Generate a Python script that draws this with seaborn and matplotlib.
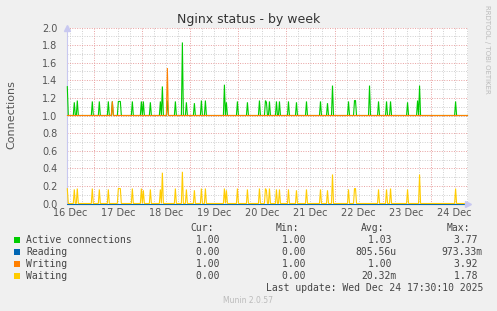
import numpy as np
import pandas as pd
import matplotlib
matplotlib.use("Agg")
import matplotlib.pyplot as plt
import seaborn as sns
from matplotlib.patches import Rectangle

# ---- data (time in hours since 16 Dec 00:00, 30-minute samples) ----
t_start, t_end, step = 10.5, 210.5, 0.5

active_base = 1.0
active_t = [10.5, 14.0, 15.5, 23.0, 26.5, 31.0, 33.0, 36.0, 36.5, 37.0, 43.0, 47.5, 48.5,
            52.0, 57.0, 58.0, 60.5, 64.5, 68.0, 70.0, 74.0, 77.5, 79.5, 89.0, 90.0, 95.5,
            100.5, 106.5, 109.5, 110.0, 111.5, 115.0, 116.5, 121.0, 125.0, 130.0, 137.0,
            140.5, 143.0, 151.0, 154.0, 154.5, 161.5, 166.0, 170.0, 172.0, 180.5, 185.5,
            186.5, 204.5]
active_v = [1.33, 1.15, 1.17, 1.16, 1.16, 1.16, 1.16, 1.16, 1.16, 1.16, 1.16, 1.16, 1.16,
            1.15, 1.16, 1.33, 1.17, 1.16, 1.83, 1.15, 1.14, 1.17, 1.17, 1.35, 1.15, 1.16,
            1.15, 1.17, 1.17, 1.15, 1.16, 1.16, 1.16, 1.16, 1.15, 1.16, 1.16,
            1.14, 1.34, 1.16, 1.17, 1.17, 1.34, 1.16, 1.16, 1.16, 1.15, 1.17,
            1.34, 1.16]

reading_base = 0.0
reading_t = []
reading_v = []

writing_base = 1.0
writing_t = [33.0, 60.5]
writing_v = [1.16, 1.54]

waiting_base = 0.0
waiting_t = [10.5, 14.0, 15.5, 23.0, 26.5, 31.0, 36.0, 36.5, 37.0, 43.0, 47.5, 48.5, 52.0,
             57.0, 58.0, 64.5, 68.0, 70.0, 74.0, 77.5, 79.5, 89.0, 90.0, 95.5, 100.5, 106.5,
             109.5, 110.0, 111.5, 115.0, 116.5, 121.0, 125.0, 130.0, 137.0, 140.5, 143.0,
             151.0, 154.0, 154.5, 166.0, 170.0, 172.0, 180.5, 186.5, 204.5]
waiting_v = [0.17, 0.16, 0.17, 0.17, 0.16, 0.16, 0.17, 0.17, 0.17, 0.17, 0.17, 0.15, 0.16,
             0.16, 0.35, 0.17, 0.36, 0.16, 0.15, 0.17, 0.17, 0.17, 0.15, 0.17, 0.16, 0.17,
             0.17, 0.15, 0.17, 0.16, 0.16, 0.16, 0.15, 0.16, 0.16, 0.15, 0.33,
             0.16, 0.17, 0.17, 0.16, 0.16, 0.17, 0.16, 0.33, 0.17]

series_names = ["Active connections", "Reading", "Writing", "Waiting"]
colors = ["#00CC00", "#0066B3", "#FF8000", "#FFCC00"]
cur_vals = ["1.00 ", "0.00 ", "1.00 ", "0.00 "]
min_vals = ["1.00 ", "0.00 ", "1.00 ", "0.00 "]
avg_vals = ["1.03 ", "805.56u", "1.00 ", "20.32m"]
max_vals = ["3.77 ", "973.33m", "3.92 ", "1.78 "]

day_labels = ["16 Dec", "17 Dec", "18 Dec", "19 Dec", "20 Dec", "21 Dec", "22 Dec", "23 Dec", "24 Dec"]

# ---- build table ----
times = np.arange(t_start, t_end + step / 2, step)


def build(base, ts, vs):
    arr = np.full(times.shape, base, dtype=float)
    for t, v in zip(ts, vs):
        arr[int(round((t - t_start) / step))] = v
    return arr


series_data = {}
for name, (b, ts, vs) in zip(series_names, [(active_base, active_t, active_v),
                                            (reading_base, reading_t, reading_v),
                                            (writing_base, writing_t, writing_v),
                                            (waiting_base, waiting_t, waiting_v)]):
    series_data[name] = pd.DataFrame({"t": times, "value": build(b, ts, vs)})

# ---- figure ----
W, H = 497, 311
sns.set_theme(style="white")
plt.rcParams["font.family"] = ["DejaVu Sans"]
fig = plt.figure(figsize=(W / 100, H / 100), dpi=100, facecolor="#F0F0F0")


def fx(x):
    return x / W


def fy(y):
    return 1 - y / H


L, R = 67, 468
bottom_px, height_px = 107.5, 176  # pixels from figure bottom
ax = fig.add_axes([fx(L), bottom_px / H, (R - L) / W, height_px / H])
ax.set_facecolor("white")

x0, x1 = 10.35, 210.7
ax.set_xlim(x0, x1)
ax.set_ylim(0, 2.0)

# grid
dots = (0, (1, 1.5))
for h in np.arange(12, 211, 6):
    if h % 24 != 0:
        ax.axvline(h, color="#cfcfcf", lw=0.7, ls=dots, zorder=0)
for h in np.arange(24, 211, 24):
    ax.axvline(h, color="#e8a0a0", lw=0.7, ls=dots, zorder=0.5)
for yv in np.arange(0.1, 2.0, 0.2):
    ax.axhline(yv, color="#cfcfcf", lw=0.7, ls=dots, zorder=0)
for yv in np.arange(0.2, 2.01, 0.2):
    ax.axhline(yv, color="#e8a0a0", lw=0.7, ls=dots, zorder=0.5)

# series drawn one by one, in Munin order (later ones on top)
for i, (name, col) in enumerate(zip(series_names, colors)):
    n_before = len(ax.get_lines())
    sns.lineplot(data=series_data[name], x="t", y="value", color=col, estimator=None,
                 sort=True, legend=False, lw=0.8, ax=ax)
    for ln in ax.get_lines()[n_before:]:
        ln.set_clip_on(False)
        ln.set_zorder(3 + i)
        ln.set_solid_joinstyle("miter")

ax.set_xticks(np.arange(12, 205, 24), day_labels)
ax.set_yticks(np.round(np.arange(0, 2.01, 0.2), 1), [f"{v:.1f}" for v in np.arange(0, 2.01, 0.2)])
ax.tick_params(axis="both", length=0, labelsize=7, labelcolor="#555555")
ax.tick_params(axis="y", pad=7)
ax.tick_params(axis="x", pad=3)
ax.set_xlabel("")
ax.set_ylabel("")
for s in ["top", "right"]:
    ax.spines[s].set_visible(False)
for s in ["left", "bottom"]:
    ax.spines[s].set_color("#c8c8f0")
    ax.spines[s].set_linewidth(0.8)
    ax.spines[s].set_zorder(2)
# axis arrows
ax.plot([0], [1.0], transform=ax.transAxes, marker="^", color="#c8c8f0", ms=4, clip_on=False, zorder=8)
ax.plot([1.0], [0], transform=ax.transAxes, marker=">", color="#c8c8f0", ms=4, clip_on=False, zorder=8)

# texts
fig.text(fx(248.5), fy(19), "Nginx status - by week", ha="center", va="center",
         fontsize=9, color="#333333")
fig.text(fx(11), fy(115), "Connections", rotation=90, ha="center", va="center",
         fontsize=8, color="#555555")
fig.text(fx(487.5), fy(5), "RRDTOOL / TOBI OETIKER", rotation=270, ha="center", va="top",
         fontsize=5, color="#bbbbbb")

mono = "DejaVu Sans Mono"
fs = 7
tc = "#444444"
hy = 228
for lab, xr in zip(["Cur:", "Min:", "Avg:", "Max:"], [213.5, 299, 384.5, 470]):
    fig.text(fx(xr), fy(hy), lab, ha="right", va="center", family=mono, fontsize=fs, color=tc)
for i, name in enumerate(series_names):
    y = 239.7 + 12 * i
    fig.patches.append(Rectangle((fx(14), fy(y + 3)), 6 / W, 6 / H, transform=fig.transFigure,
                                 facecolor=colors[i], edgecolor="none"))
    fig.text(fx(26), fy(y), name, ha="left", va="center", family=mono, fontsize=fs, color=tc)
    for vals, xr in zip([cur_vals, min_vals, avg_vals, max_vals], [225.3, 311.5, 397, 483]):
        fig.text(fx(xr), fy(y), vals[i], ha="right", va="center", family=mono, fontsize=fs, color=tc)
fig.text(fx(483), fy(287.7), "Last update: Wed Dec 24 17:30:10 2025", ha="right", va="center",
         family=mono, fontsize=fs, color=tc)
fig.text(fx(248), fy(300.5), "Munin 2.0.57", ha="center", va="center", fontsize=5.5, color="#bbbbbb")

fig.savefig("out.png", dpi=100, facecolor=fig.get_facecolor())
